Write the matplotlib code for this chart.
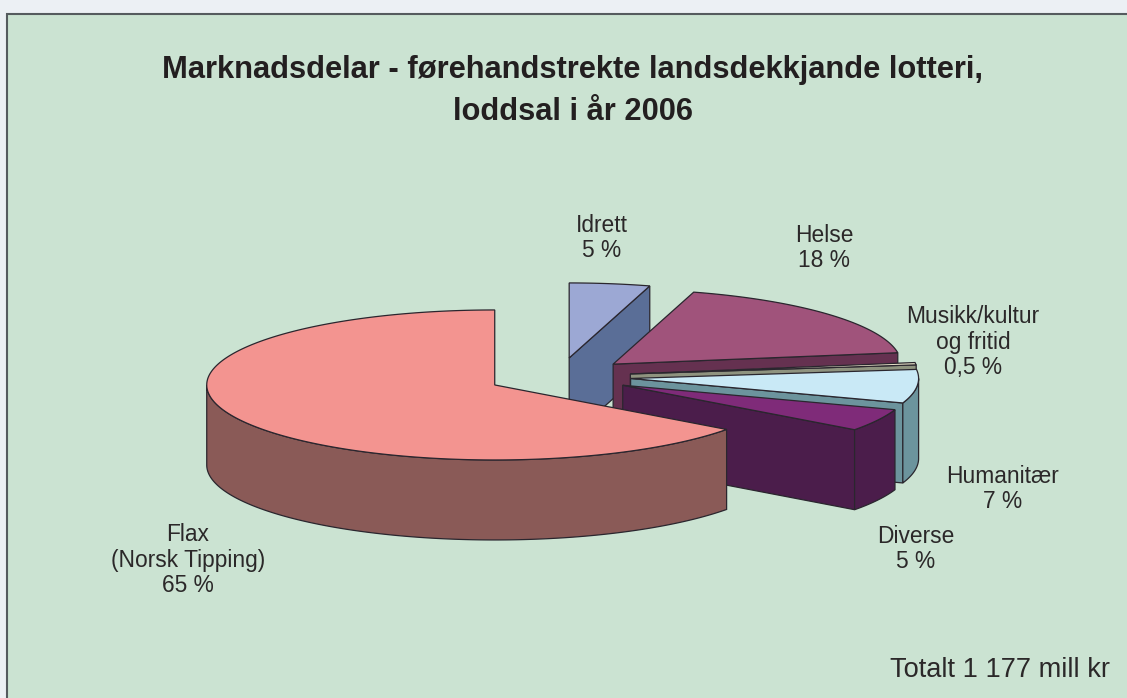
import numpy as np
import matplotlib
matplotlib.use("Agg")
import matplotlib.pyplot as plt
from matplotlib.patches import Polygon, Rectangle

plt.rcParams['font.family'] = ['Liberation Sans', 'DejaVu Sans']

# clockwise from 12 o'clock
names = ["Idrett", "Helse", "Musikk/kultur\nog fritid", "Humanitær", "Diverse", "Flax\n(Norsk Tipping)"]
shares = [4.5, 18.0, 0.5, 7.2, 4.8, 64.7]
share_text = ["5 %", "18 %", "0,5 %", "7 %", "5 %", "65 %"]

top_colors = ["#9CA8D4", "#A0537B", "#EFE9CF", "#C9E9F6", "#7F2B79", "#F39490"]
side_colors = ["#5A6E97", "#653150", "#8F937F", "#6C949D", "#4B1D4B", "#8A5A57"]
label_pos = [(602, 238), (824, 248), (973, 342), (1003, 489), (916, 549), (188, 560)]

cx, cy = 559, 376.5
rx, ry = 288, 75
depth = 80
explode = 0.25
edge = "#2A262E"


def arc(x0, y0, a0, a1):
    t = np.radians(np.linspace(a0, a1, max(int(abs(a1 - a0)) * 2, 2)))
    return np.column_stack((x0 + rx * np.sin(t), y0 - ry * np.cos(t)))


def draw_slice(ax, a0, a1, top, side, z):
    mid = np.radians((a0 + a1) / 2)
    x0 = cx + explode * rx * np.sin(mid)
    y0 = cy - explode * ry * np.cos(mid)
    # cut wall on the clockwise end, only when it faces the viewer
    if a1 < 180:
        end = arc(x0, y0, a1, a1)[0]
        wall = [(x0, y0), end, end + (0, depth), (x0, y0 + depth)]
        ax.add_patch(Polygon(wall, fc=side, ec=edge, lw=0.9, zorder=z))
    # outer wall, front half only
    w0, w1 = max(a0, 90), min(a1, 270)
    if w1 > w0:
        pts = arc(x0, y0, w0, w1)
        wall = np.vstack((pts, pts[::-1] + (0, depth)))
        ax.add_patch(Polygon(wall, fc=side, ec=edge, lw=0.9, zorder=z + 0.1))
    cap = np.vstack(([(x0, y0)], arc(x0, y0, a0, a1)))
    ax.add_patch(Polygon(cap, fc=top, ec=edge, lw=0.9, zorder=z + 0.2))


fig = plt.figure(figsize=(11.27, 6.98), dpi=100, facecolor="#ECF0F4")
ax = fig.add_axes([0, 0, 1, 1])
ax.set_xlim(0, 1127)
ax.set_ylim(698, 0)
ax.axis("off")

ax.add_patch(Rectangle((7, 14), 1300, 800, fc="#CBE3D2", ec="#555B5E", lw=1.5, zorder=0))

edges = np.cumsum([0] + shares) / sum(shares) * 360
for i in range(len(shares)):
    draw_slice(ax, edges[i], edges[i + 1], top_colors[i], side_colors[i], i + 1)

for name, txt, (x, y) in zip(names, share_text, label_pos):
    ax.text(x, y, name + "\n" + txt, ha="center", va="center", fontsize=16.4,
            color="#2B2829", linespacing=1.12, zorder=20)

ax.text(573, 91, "Marknadsdelar - førehandstrekte landsdekkjande lotteri,\nloddsal i år 2006",
        ha="center", va="center", fontsize=22.2, fontweight="bold", color="#231F20",
        linespacing=1.55, zorder=20)
ax.text(1110, 670, "Totalt 1 177 mill kr", ha="right", va="center", fontsize=19.6,
        color="#2B2829", zorder=20)

fig.savefig("out.png", dpi=100, facecolor=fig.get_facecolor())
